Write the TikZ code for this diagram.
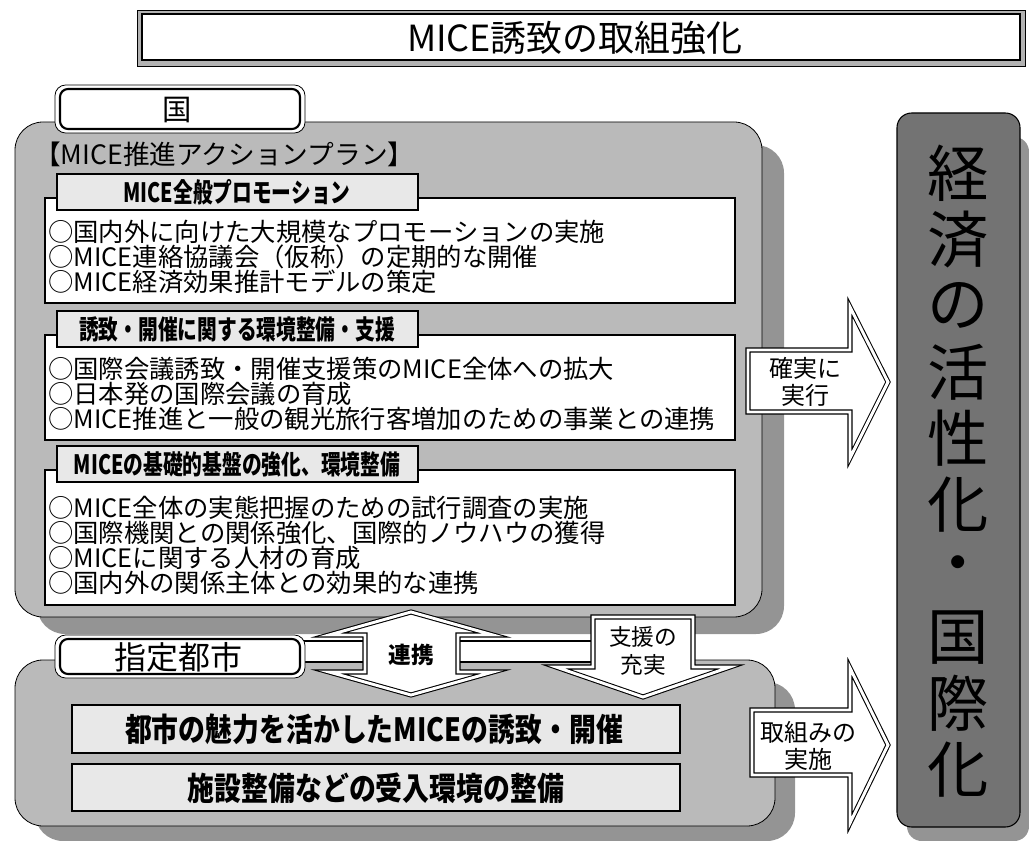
\documentclass[tikz,border=0pt]{standalone}
\usepackage{fontspec}
\setmainfont{Noto Sans CJK JP}
\newfontfamily\hd[FakeStretch=0.74]{Noto Sans CJK JP}
\newfontfamily\hdw[FakeStretch=0.84]{Noto Sans CJK JP}
\usepackage{tikz}
\def\lw{1.3pt}
\def\fs#1{\fontsize{#1}{#1}\selectfont}
\def\fsb#1#2{\fontsize{#1}{#2}\selectfont}
\tikzset{
  pnl/.style={draw, line width=0.6pt, rounded corners=21pt, fill=black!27},
  shd/.style={rounded corners=21pt, fill=black!42},
  col/.style={draw, line width=0.8pt, rounded corners=11pt, fill=black!55},
  bdy/.style={draw, line width=\lw, fill=white},
  hdr/.style={draw, line width=\lw, fill=black!9},
  bbx/.style={draw, line width=\lw, fill=black!9},
  tab/.style={draw, line width=0.6pt, rounded corners=8pt, fill=white},
  arw/.style={draw, line width=0.8pt, double=white, double distance=2.2pt, fill=white},
  txt/.style={anchor=west, align=left, inner sep=0pt, font=\fsb{19}{18.75}},
  hdt/.style={inner sep=0pt, font=\hd\bfseries\fs{20}},
  atx/.style={inner sep=0pt, align=center, font=\fsb{18}{20.5}},
}
\begin{document}
\begin{tikzpicture}[x=0.75pt,y=-0.75pt]
\useasboundingbox (0,0) rectangle (1029,841);

\draw[line width=0.6pt, fill=black!30] (137,10) rectangle (1025,66);
\draw[line width=1.4pt, fill=white] (142,14) rectangle (1020,60);
\node[font=\fs{27}] (T) at (575,38) {MICE誘致の取組強化};

\fill[shd] (37,145) rectangle (784,634);
\fill[shd] (35,682) rectangle (795,841);
\fill[black!42, rounded corners=11pt] (907,137) rectangle (1029,841);

\draw[pnl] (15,122) rectangle (762,617);
\draw[pnl] (15,660) rectangle (775,826);
\draw[col] (897,113) rectangle (1020,827);

\node[anchor=west, inner sep=0pt, font=\fs{20}] (P) at (34,154) {【MICE推進アクションプラン】};

\foreach \t/\b in {198/303, 335/440, 470/605}
  \draw[bdy] (45,\t) rectangle (735,\b);
\foreach \t in {174, 311, 446}
  \draw[hdr] (57,\t) rectangle (418,\t+36);

\node[hdt] (h1) at (237,192) {MICE全般プロモーション};
\node[hdt] (h2) at (237,329) {誘致・開催に関する環境整備・支援};
\node[hdt] (h3) at (237,464) {MICEの基礎的基盤の強化、環境整備};

\node[txt] (b1) at (48,257) {○国内外に向けた大規模なプロモーションの実施\\○MICE連絡協議会（仮称）の定期的な開催\\○MICE経済効果推計モデルの策定};
\node[txt] (b2) at (48,394) {○国際会議誘致・開催支援策のMICE全体への拡大\\○日本発の国際会議の育成\\○MICE推進と一般の観光旅行客増加のための事業との連携};
\node[txt] (b3) at (48,545) {○MICE全体の実態把握のための試行調査の実施\\○国際機関との関係強化、国際的ノウハウの獲得\\○MICEに関する人材の育成\\○国内外の関係主体との効果的な連携};

\draw[tab] (55,85) rectangle (305,133);
\draw[line width=1.6pt, rounded corners=6pt] (60,89) rectangle (300,129);
\node[font=\fs{22}] (K) at (177,110) {国};

\draw[bbx] (72,705) rectangle (680,753);
\draw[bbx] (72,764) rectangle (680,811);
\node[font=\hdw\bfseries\fs{24}] (c1) at (374,729) {都市の魅力を活かしたMICEの誘致・開催};
\node[font=\hdw\bfseries\fs{24}] (c2) at (376,788) {施設整備などの受入環境の整備};

\draw[line width=1pt, fill=white] (303,641) rectangle (595,662);
\draw[tab] (55,635) rectangle (305,678);
\draw[line width=1.6pt, rounded corners=6pt] (60,639) rectangle (300,674);
\node[font=\fs{24}] (M) at (178,657) {指定都市};

\draw[arw] (411,612) -- (493,635) -- (458,635) -- (458,672) -- (493,672) -- (411,695)
  -- (329,672) -- (365,672) -- (365,635) -- (329,635) -- cycle;
\node[font=\bfseries\fs{17}] (L) at (411,655) {連携};

\draw[arw] (593,617) -- (693,617) -- (693,667) -- (730,667) -- (643,697) -- (556,667)
  -- (593,667) -- cycle;
\node[atx, font=\fsb{17}{21}] (S) at (643,651) {支援の\\充実};

\draw[arw] (748,350) -- (850,350) -- (850,307) -- (888,382) -- (850,458) -- (850,412)
  -- (748,412) -- cycle;
\node[atx] (r1) at (805,382) {確実に\\実行};

\draw[arw] (752,710) -- (850,710) -- (850,668) -- (888,745) -- (850,823) -- (850,775)
  -- (752,775) -- cycle;
\node[atx] (r2) at (808,746) {取組みの\\実施};

\foreach \c [count=\i from 0] in {経,済,の,活,性,化,・,国,際,化}
  \node[font=\fs{46}] (z\i) at (958,173+66.3*\i) {\c};
\end{tikzpicture}
\end{document}
